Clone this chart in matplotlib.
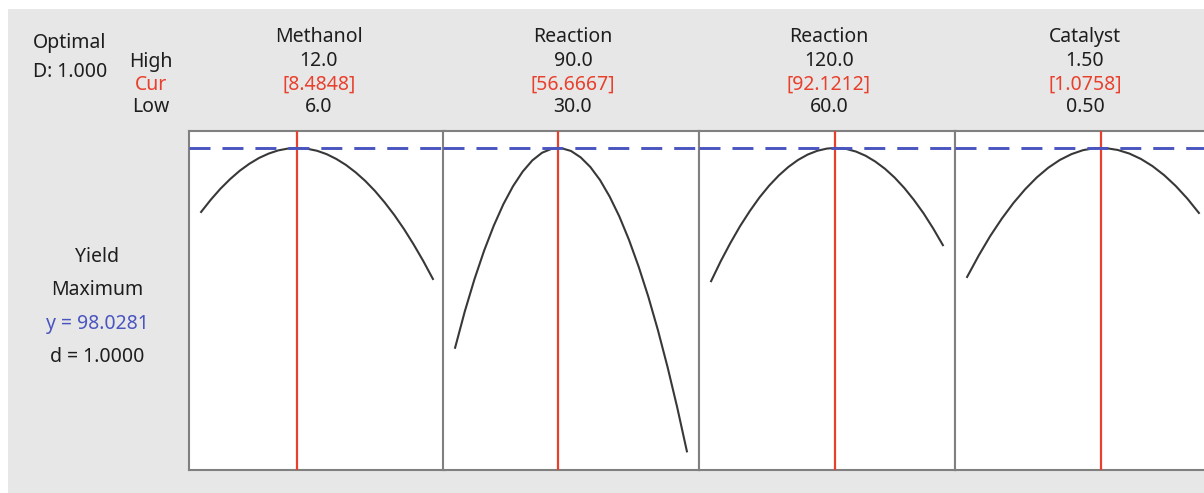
import matplotlib
matplotlib.use("Agg")
import matplotlib.pyplot as plt
from matplotlib.patches import Rectangle

plt.rcParams['font.family'] = ['Noto Sans', 'DejaVu Sans']

# ---------------- data ----------------
factor_names = ["Methanol", "Reaction", "Reaction", "Catalyst"]
high_labels = ["12.0", "90.0", "120.0", "1.50"]
cur_labels = ["[8.4848]", "[56.6667]", "[92.1212]", "[1.0758]"]
low_labels = ["6.0", "30.0", "60.0", "0.50"]
low_vals = [6.0, 30.0, 60.0, 0.50]
high_vals = [12.0, 90.0, 120.0, 1.50]
cur_vals = [8.4848, 56.6667, 92.1212, 1.0758]

y_opt = 98.0281
d_val = 1.0000

# yield curves (x, y per factor)
methanol_x = [6.00, 6.25, 6.50, 6.75, 7.00, 7.25, 7.50, 7.75, 8.00, 8.25, 8.4848,
              8.75, 9.00, 9.25, 9.50, 9.75, 10.00, 10.25, 10.50, 10.75, 11.00,
              11.25, 11.50, 11.75, 12.00]
methanol_y = [94.83, 95.44, 95.99, 96.47, 96.89, 97.24, 97.53, 97.75, 97.91, 98.00, 98.03,
              97.99, 97.89, 97.72, 97.48, 97.18, 96.81, 96.38, 95.88, 95.31, 94.68,
              93.98, 93.21, 92.38, 91.48]

reaction1_x = [30, 32.5, 35, 37.5, 40, 42.5, 45, 47.5, 50, 52.5, 55, 56.6667,
               57.5, 60, 62.5, 65, 67.5, 70, 72.5, 75, 77.5, 80, 82.5, 85, 87.5, 90]
reaction1_y = [88.04, 89.85, 91.46, 92.89, 94.14, 95.22, 96.12, 96.85, 97.41, 97.79, 97.99, 98.03,
               98.02, 97.88, 97.56, 97.08, 96.43, 95.60, 94.61, 93.44, 92.10, 90.60, 88.92,
               87.07, 85.05, 82.86]

reaction2_x = [60, 62.5, 65, 67.5, 70, 72.5, 75, 77.5, 80, 82.5, 85, 87.5, 90, 92.1212,
               92.5, 95, 97.5, 100, 102.5, 105, 107.5, 110, 112.5, 115, 117.5, 120]
reaction2_y = [91.37, 92.37, 93.28, 94.12, 94.87, 95.55, 96.14, 96.65, 97.08, 97.43, 97.70,
               97.89, 98.00, 98.03, 98.03, 97.98, 97.85, 97.64, 97.35, 96.99, 96.55, 96.03,
               95.43, 94.76, 94.00, 93.17]

catalyst_x = [0.50, 0.55, 0.60, 0.65, 0.70, 0.75, 0.80, 0.85, 0.90, 0.95, 1.00, 1.05,
              1.0758, 1.10, 1.15, 1.20, 1.25, 1.30, 1.35, 1.40, 1.45, 1.50]
catalyst_y = [91.58, 92.65, 93.63, 94.50, 95.28, 95.96, 96.55, 97.04, 97.43, 97.72, 97.92,
              98.02, 98.03, 98.02, 97.93, 97.75, 97.48, 97.12, 96.67, 96.13, 95.50, 94.78]

curves_x = [methanol_x, reaction1_x, reaction2_x, catalyst_x]
curves_y = [methanol_y, reaction1_y, reaction2_y, catalyst_y]

# ---------------- layout ----------------
W, H = 1204, 493
fig = plt.figure(figsize=(W / 100, H / 100), dpi=100)
fig.patch.set_facecolor("white")

# gray panel background
fig.add_artist(Rectangle((8 / W, 0), 1 - 8 / W, 1 - 9 / H, transform=fig.transFigure,
                         facecolor="#e7e7e7", edgecolor="none", zorder=0))

RED = "#e8402c"
BLUE = "#4a55c0"
GRAY = "#808080"
TXT = "#1e1e1e"
FS = 14

ax_top, ax_bot = 131, 470
lefts = [189, 443, 699, 955]
width = 256

y_per_px = 0.05
ylim = (y_opt - (ax_bot - 148) * y_per_px, y_opt + (148 - ax_top) * y_per_px)
pad = 12 / 230


def fx(px):
    return px / W


def fy(py):
    return 1 - py / H


def label(x, y, s, color=TXT):
    fig.text(fx(x), fy(y), s, ha="center", va="baseline", fontsize=FS, color=color)


for i in range(4):
    ax = fig.add_axes([fx(lefts[i]), fy(ax_bot), width / W, (ax_bot - ax_top) / H])
    ax.set_facecolor("white")
    rng = high_vals[i] - low_vals[i]
    ax.set_xlim(low_vals[i] - pad * rng, high_vals[i] + pad * rng)
    ax.set_ylim(*ylim)
    ax.set_xticks([])
    ax.set_yticks([])
    for s in ax.spines.values():
        s.set_color(GRAY)
        s.set_linewidth(1.5)
    ax.plot(curves_x[i], curves_y[i], color="#383838", lw=1.5, zorder=3)
    ax.axvline(cur_vals[i], color=RED, lw=1.6, zorder=4)
    ax.axhline(y_opt, color=BLUE, lw=2.1, dashes=(7.2, 4.1), zorder=5)

    cx = lefts[i] + width / 2 + 2
    label(cx, 42, factor_names[i])
    label(cx, 66.5, high_labels[i])
    label(cx, 89.5, cur_labels[i], RED)
    label(cx, 112.5, low_labels[i])

# left header
label(70, 48, "Optimal")
label(70, 77, "D: 1.000")
label(151, 66.5, "High")
label(151, 89.5, "Cur", RED)
label(151, 112.5, "Low")

label(97, 261.5, "Yield")
label(97, 295, "Maximum")
label(97, 329, f"y = {y_opt:.4f}", BLUE)
label(97, 362.5, f"d = {d_val:.4f}")

fig.savefig("out.png", dpi=100, facecolor=fig.get_facecolor())
